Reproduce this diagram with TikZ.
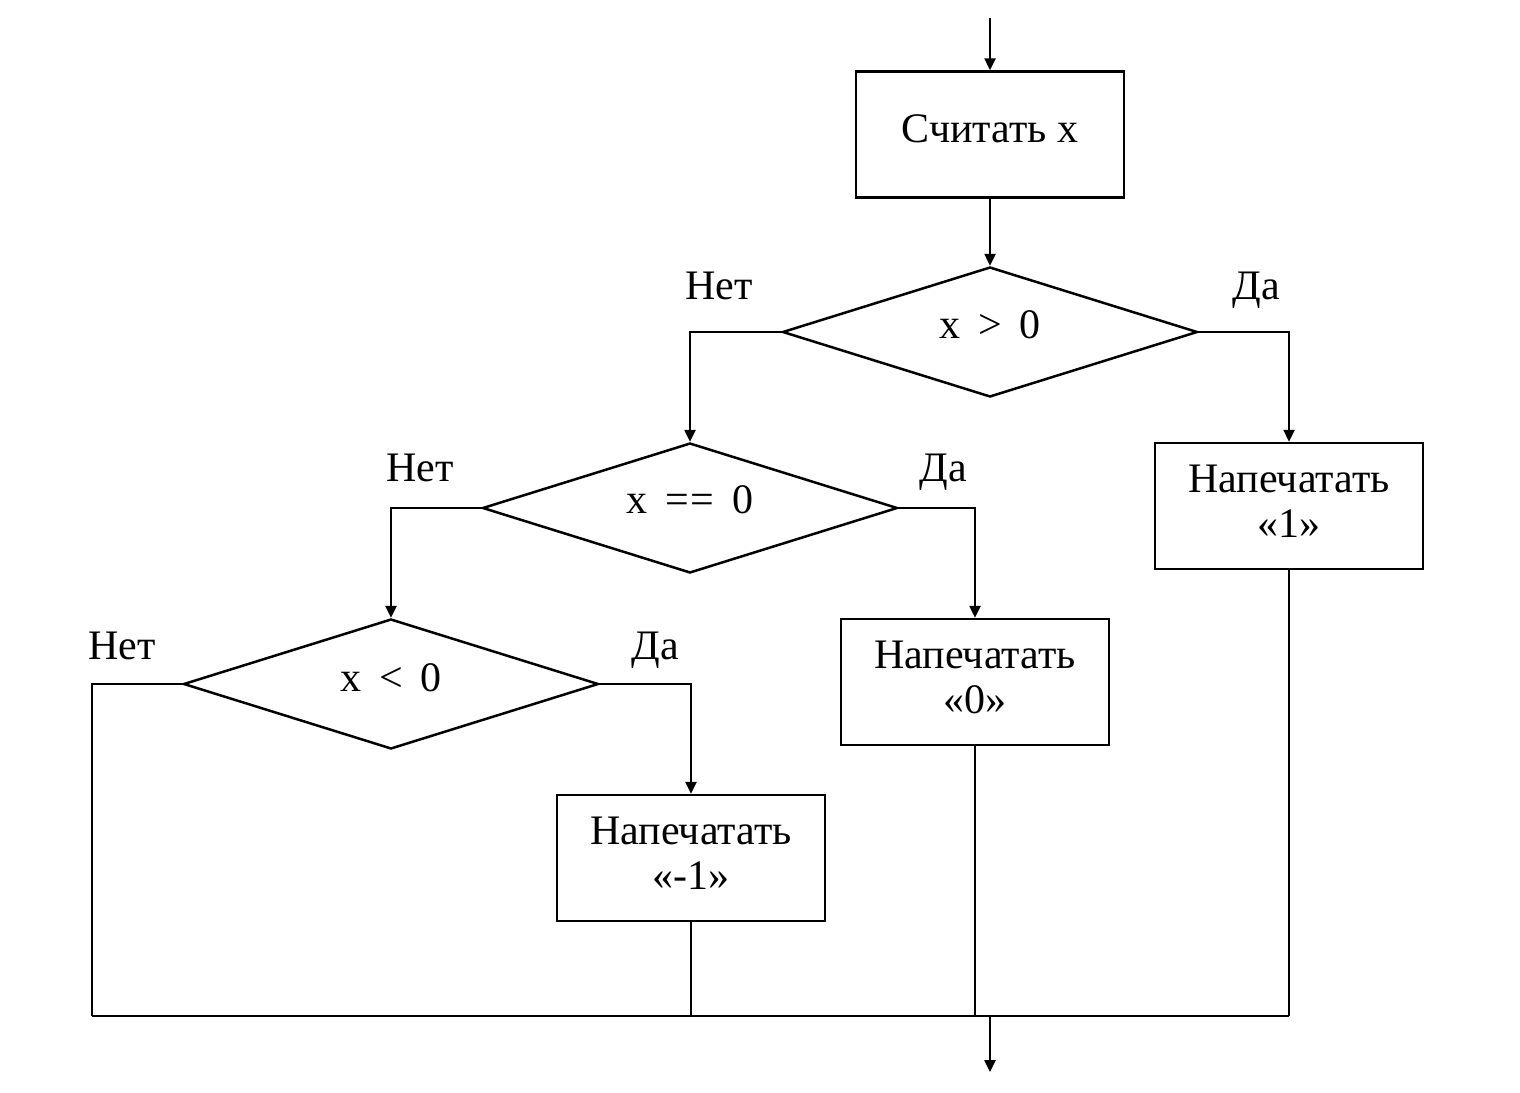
\documentclass[tikz,border=0pt]{standalone}
\usepackage{fontspec}
\setmainfont{Liberation Serif}
\usetikzlibrary{shapes.geometric,arrows.meta}
\tikzset{
  every node/.style={font=\fontsize{21}{22.5}\selectfont},
  procbox/.style={draw, line width=1.25pt, rectangle, minimum width=134pt, minimum height=63pt, inner sep=0pt, align=center},
  decis/.style={draw, line width=1.25pt, diamond, minimum width=207.5pt, minimum height=65pt, inner sep=0pt},
  conn/.style={line width=1.25pt},
  arr/.style={conn, -{Triangle[length=6pt,width=5.5pt]}},
  lbl/.style={inner sep=0pt, anchor=base}
}
\newcommand{\opsp}{\hspace{0.42em}}
\begin{document}
\begin{tikzpicture}[x=0.5pt,y=-0.5pt]
\useasboundingbox (0,0) rectangle (1520,1092);
% nodes
\node[procbox] (read) at (990,134.5) {\raisebox{6pt}{Считать x}};
\node[decis] (d1) at (990,332) {};
\node at (990,325) {x\opsp>\opsp0};
\node[decis] (d2) at (690,508) {};
\node at (690,500) {x\opsp=\kern1pt=\opsp0};
\node[decis] (d3) at (391,684) {};
\node at (391,678) {x\opsp<\opsp0};
\node[procbox] (p1) at (1289,506) {\raisebox{4pt}{\begin{tabular}{@{}c@{}}Напечатать\\«1»\end{tabular}}};
\node[procbox] (p0) at (975,682) {\raisebox{4pt}{\begin{tabular}{@{}c@{}}Напечатать\\«0»\end{tabular}}};
\node[procbox] (pm) at (691,858) {\raisebox{4pt}{\begin{tabular}{@{}c@{}}Напечатать\\«-1»\end{tabular}}};
% labels
\node[lbl] at (719,299) {Нет};
\node[lbl] at (1256,299) {Да};
\node[lbl] at (420,481) {Нет};
\node[lbl] at (943,481) {Да};
\node[lbl] at (122,659) {Нет};
\node[lbl] at (655,659) {Да};
% coordinates
\coordinate (start) at (990,18);
\coordinate (jl) at (92,1016);
\coordinate (jr) at (1289,1016);
\coordinate (out) at (990,1016);
\coordinate (end) at (990,1072);
% connectors
\draw[arr] (start) -- (read.north);
\draw[arr] (read.south) -- (d1.north);
\draw[arr] (d1.west) -| (d2.north);
\draw[arr] (d1.east) -| (p1.north);
\draw[arr] (d2.west) -| (d3.north);
\draw[arr] (d2.east) -| (p0.north);
\draw[arr] (d3.east) -| (pm.north);
\draw[conn] (d3.west) -| (jl);
\draw[conn] (pm.south) -- (pm.south |- jl);
\draw[conn] (p0.south) -- (p0.south |- jl);
\draw[conn] (p1.south) -- (jr);
\draw[conn] (jl) -- (jr);
\draw[arr] (out) -- (end);
\end{tikzpicture}
\end{document}
